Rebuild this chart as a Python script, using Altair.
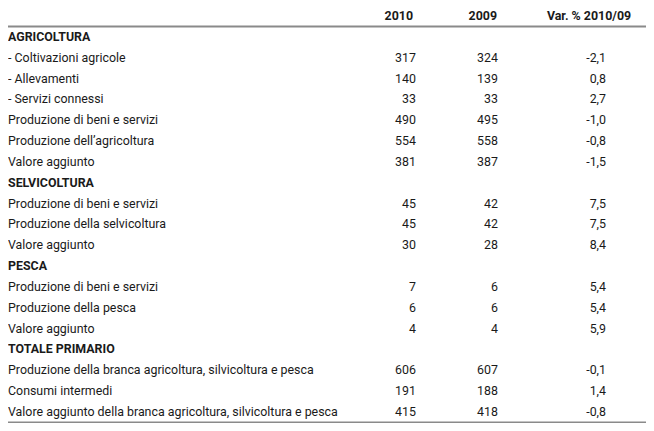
import altair as alt
import pandas as pd

labels = [
    "AGRICOLTURA",
    "\u00a0- Coltivazioni agricole",
    "\u00a0- Allevamenti",
    "\u00a0- Servizi connessi",
    "Produzione di beni e servizi",
    "Produzione dell\u2019agricoltura",
    "Valore aggiunto",
    "SELVICOLTURA",
    "Produzione di beni e servizi",
    "Produzione della selvicoltura",
    "Valore aggiunto",
    "PESCA",
    "Produzione di beni e servizi",
    "Produzione della pesca",
    "Valore aggiunto",
    "TOTALE PRIMARIO",
    "Produzione della branca agricoltura, silvicoltura e pesca",
    "Consumi intermedi",
    "Valore aggiunto della branca agricoltura, silvicoltura e pesca",
]
is_section = [True, False, False, False, False, False, False,
              True, False, False, False,
              True, False, False, False,
              True, False, False, False]
v2010 = [None, 317, 140, 33, 490, 554, 381, None, 45, 45, 30, None, 7, 6, 4, None, 606, 191, 415]
v2009 = [None, 324, 139, 33, 495, 558, 387, None, 42, 42, 28, None, 6, 6, 4, None, 607, 188, 418]
var_pct = [None, -2.1, 0.8, 2.7, -1.0, -0.8, -1.5, None, 7.5, 7.5, 8.4, None, 5.4, 5.4, 5.9, None, -0.1, 1.4, -0.8]

headers = ["2010", "2009", "Var. % 2010/09"]

def fmt_int(v):
    return "" if v is None else str(v)

def fmt_pct(v):
    return "" if v is None else f"{v:.1f}".replace(".", ",")

df = pd.DataFrame({
    "row": list(range(len(labels))),
    "label": labels,
    "c2010": [fmt_int(v) for v in v2010],
    "c2009": [fmt_int(v) for v in v2009],
    "cvar": [fmt_pct(v) for v in var_pct],
})
mask = pd.Series(is_section)
df_body = df[~mask]
df_sec = df[mask]

hdr = pd.DataFrame({"row": [-1, -1, -1], "text": headers, "col": [0, 1, 2]})
rules = pd.DataFrame({"row": [-0.5, len(labels) - 0.5]})

FONT = "Roboto"
FS = 12.4
COL = "#1a1a1a"
yscale = alt.Scale(domain=[-1, 18], range=[8, 404])
Y = alt.Y("row:Q", scale=yscale, axis=None)

base_text = dict(font=FONT, fontSize=FS, color=COL, baseline="middle")

lbl = alt.Chart(df_body).mark_text(align="left", **base_text).encode(
    x=alt.value(0), y=Y, text="label:N")
sec = alt.Chart(df_sec).mark_text(align="left", fontWeight="bold", **base_text).encode(
    x=alt.value(0), y=Y, text="label:N")
c1 = alt.Chart(df_body).mark_text(align="right", **base_text).encode(
    x=alt.value(408), y=Y, text="c2010:N")
c2 = alt.Chart(df_body).mark_text(align="right", **base_text).encode(
    x=alt.value(490), y=Y, text="c2009:N")
c3 = alt.Chart(df_body).mark_text(align="right", **base_text).encode(
    x=alt.value(598), y=Y, text="cvar:N")

h1 = alt.Chart(hdr[hdr.col == 0]).mark_text(align="right", fontWeight="bold", **base_text).encode(
    x=alt.value(405), y=Y, text="text:N")
h2 = alt.Chart(hdr[hdr.col == 1]).mark_text(align="right", fontWeight="bold", **base_text).encode(
    x=alt.value(489), y=Y, text="text:N")
h3 = alt.Chart(hdr[hdr.col == 2]).mark_text(align="center", fontWeight="bold", **base_text).encode(
    x=alt.value(581), y=Y, text="text:N")

rule = alt.Chart(rules).mark_rule(color="#8a8a8a", strokeWidth=2).encode(
    y=Y, x=alt.value(0), x2=alt.value(638))

chart = alt.layer(rule, lbl, sec, c1, c2, c3, h1, h2, h3).properties(
    width=638, height=415, padding=0, autosize=alt.AutoSizeParams(type="none")
).configure_view(stroke=None)

chart.save("out.html", embed_options={"renderer": "svg", "actions": False})
